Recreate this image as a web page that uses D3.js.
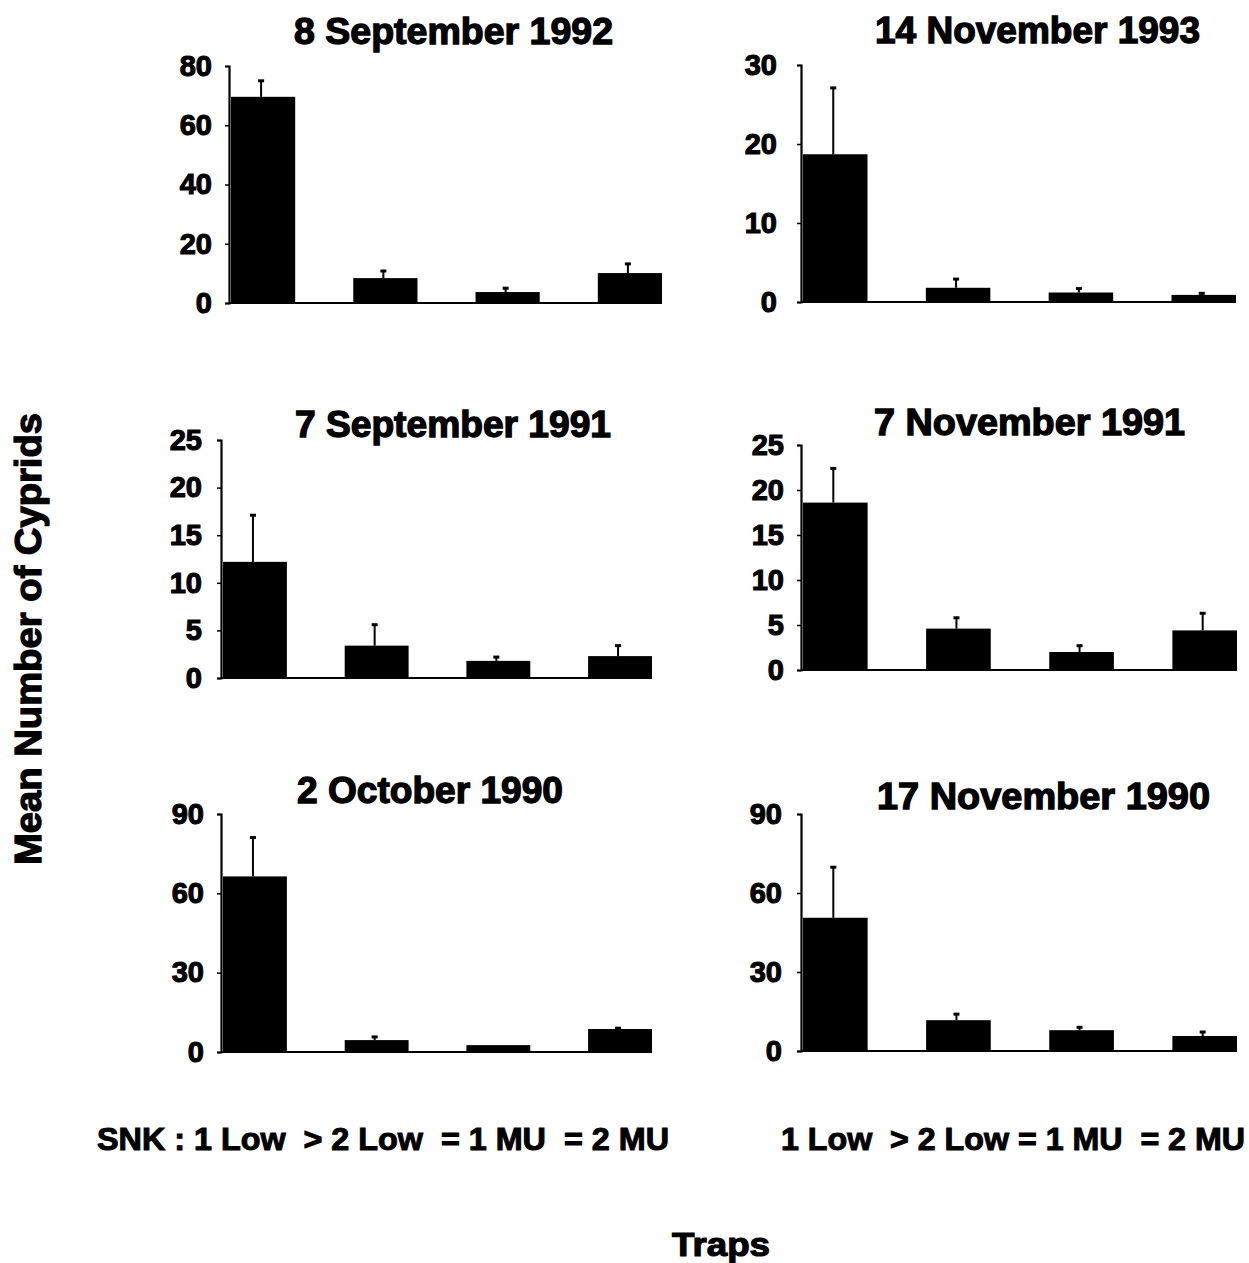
<!DOCTYPE html>
<html>
<head>
<meta charset="utf-8">
<script src="https://cdn.jsdelivr.net/npm/d3@7"></script>
<style>
  html, body { margin: 0; padding: 0; background: #fff; }
  svg { display: block; }
  text { font-family: "Liberation Sans", Arial, Helvetica, sans-serif; font-weight: bold; fill: #000; }
</style>
</head>
<body>
<svg id="chart" width="1249" height="1263"></svg>
<script>
// Trap types along the x axis of every panel
const traps = ["1 Low", "2 Low", "1 MU", "2 MU"];

// Sampling dates (panel titles)
const titles = [
  "8 September 1992", "14 November 1993",
  "7 September 1991", "7 November 1991",
  "2 October 1990", "17 November 1990"
];

// Mean number of cyprids per trap, and standard errors
const meanSep1992 = [69.6, 8.4, 3.7, 10.1];
const seSep1992   = [5.4, 2.4, 1.3, 3.1];
const meanNov1993 = [18.7, 1.8, 1.2, 0.9];
const seNov1993   = [8.4, 1.1, 0.5, 0.2];
const meanSep1991 = [12.2, 3.4, 1.8, 2.3];
const seSep1991   = [4.9, 2.2, 0.4, 1.1];
const meanNov1991 = [18.6, 4.6, 2.0, 4.4];
const seNov1991   = [3.8, 1.2, 0.7, 1.9];
const meanOct1990 = [66.4, 4.5, 2.6, 8.7];
const seOct1990   = [14.7, 1.2, 0.0, 0.3];
const meanNov1990 = [50.6, 11.7, 7.9, 5.7];
const seNov1990   = [19.2, 2.3, 1.1, 1.5];

// Y tick values per panel
const ticksSep1992 = [0, 20, 40, 60, 80];
const ticksNov1993 = [0, 10, 20, 30];
const ticksSep1991 = [0, 5, 10, 15, 20, 25];
const ticksNov1991 = [0, 5, 10, 15, 20, 25];
const ticksOct1990 = [0, 30, 60, 90];
const ticksNov1990 = [0, 30, 60, 90];

// SNK test results below each column of panels
const snkLeft  = "SNK : 1 Low  > 2 Low  = 1 MU  = 2 MU";
const snkRight = "1 Low  > 2 Low = 1 MU  = 2 MU";

const svg = d3.select("#chart");

// Frame of each panel: axis x, baseline y, top y, right end of bars,
// tick label padding, title baseline and horizontal extent
const panels = [
  { title: titles[0], mean: meanSep1992, se: seSep1992, ticks: ticksSep1992, ax: 229, y0: 303,  yTop: 66,  right: 662,  pad: 13, ty: 44,  tx0: 294, tx1: 613 },
  { title: titles[1], mean: meanNov1993, se: seNov1993, ticks: ticksNov1993, ax: 801, y0: 302,  yTop: 65,  right: 1236, pad: 20, ty: 43,  tx0: 875, tx1: 1200 },
  { title: titles[2], mean: meanSep1991, se: seSep1991, ticks: ticksSep1991, ax: 221, y0: 678,  yTop: 440, right: 652,  pad: 15, ty: 437, tx0: 295, tx1: 611 },
  { title: titles[3], mean: meanNov1991, se: seNov1991, ticks: ticksNov1991, ax: 801, y0: 670,  yTop: 445, right: 1237, pad: 13, ty: 435, tx0: 874, tx1: 1185 },
  { title: titles[4], mean: meanOct1990, se: seOct1990, ticks: ticksOct1990, ax: 221, y0: 1052, yTop: 814, right: 652,  pad: 13, ty: 803, tx0: 297, tx1: 563 },
  { title: titles[5], mean: meanNov1990, se: seNov1990, ticks: ticksNov1990, ax: 801, y0: 1051, yTop: 814, right: 1237, pad: 15, ty: 809, tx0: 877, tx1: 1210 }
];

panels.forEach(p => {
  const g = svg.append("g");
  const maxTick = p.ticks[p.ticks.length - 1];

  const y = d3.scaleLinear().domain([0, maxTick]).range([p.y0, p.yTop]);
  const x = d3.scaleBand().domain(traps)
    .range([p.ax + 2, p.right])
    .paddingInner(0.475)
    .paddingOuter(0);

  // Y axis
  const yAxis = d3.axisLeft(y)
    .tickValues(p.ticks)
    .tickSize(4)
    .tickPadding(p.pad)
    .tickFormat(d3.format("d"));
  const ag = g.append("g")
    .attr("transform", `translate(${p.ax},0)`)
    .call(yAxis);
  ag.select(".domain").attr("stroke", "#000").attr("stroke-width", 2.2);
  ag.selectAll(".tick line").attr("stroke", "#000").attr("stroke-width", 1.5);
  ag.selectAll(".tick text")
    .attr("font-size", 29)
    .attr("font-family", "'Liberation Sans', Arial, sans-serif")
    .attr("font-weight", "bold")
    .attr("fill", "#000")
    .attr("stroke", "#000")
    .attr("stroke-width", 1.1);

  // Baseline
  g.append("line")
    .attr("x1", p.ax).attr("x2", p.right)
    .attr("y1", y(0)).attr("y2", y(0))
    .attr("stroke", "#000").attr("stroke-width", 2.2);

  // Bars
  g.selectAll("rect.bar")
    .data(p.mean)
    .join("rect")
    .attr("class", "bar")
    .attr("x", (d, i) => x(traps[i]))
    .attr("width", x.bandwidth())
    .attr("y", d => y(d))
    .attr("height", d => y(0) - y(d))
    .attr("fill", "#000");

  // Error bars (upper half only)
  const eb = g.selectAll("g.err")
    .data(p.mean.map((m, i) => ({ m, se: p.se[i], t: traps[i] })).filter(d => d.se > 0))
    .join("g").attr("class", "err");
  eb.append("line")
    .attr("x1", d => x(d.t) + x.bandwidth() / 2 - 2)
    .attr("x2", d => x(d.t) + x.bandwidth() / 2 - 2)
    .attr("y1", d => y(d.m))
    .attr("y2", d => y(d.m + d.se))
    .attr("stroke", "#000").attr("stroke-width", 2);
  eb.append("line")
    .attr("x1", d => x(d.t) + x.bandwidth() / 2 - 5)
    .attr("x2", d => x(d.t) + x.bandwidth() / 2 + 1)
    .attr("y1", d => y(d.m + d.se))
    .attr("y2", d => y(d.m + d.se))
    .attr("stroke", "#000").attr("stroke-width", 3);

  // Panel title
  g.append("text")
    .attr("x", p.tx0)
    .attr("y", p.ty)
    .attr("font-size", 36)
    .attr("textLength", p.tx1 - p.tx0)
    .attr("lengthAdjust", "spacingAndGlyphs")
    .attr("stroke", "#000").attr("stroke-width", 1.3)
    .text(p.title);
});

// Shared y-axis title
svg.append("text")
  .attr("transform", "translate(41,639) rotate(-90)")
  .attr("text-anchor", "middle")
  .attr("font-size", 37)
  .attr("textLength", 452)
  .attr("lengthAdjust", "spacingAndGlyphs")
  .attr("stroke", "#000").attr("stroke-width", 1.3)
  .text("Mean Number of Cyprids");

// SNK results
svg.append("text")
  .attr("x", 97).attr("y", 1150)
  .attr("font-size", 31)
  .attr("textLength", 572)
  .attr("lengthAdjust", "spacingAndGlyphs")
  .attr("stroke", "#000").attr("stroke-width", 1.0)
  .style("white-space", "pre")
  .text(snkLeft);
svg.append("text")
  .attr("x", 781).attr("y", 1150)
  .attr("font-size", 31)
  .attr("textLength", 464)
  .attr("lengthAdjust", "spacingAndGlyphs")
  .attr("stroke", "#000").attr("stroke-width", 1.0)
  .style("white-space", "pre")
  .text(snkRight);

// Shared x-axis title
svg.append("text")
  .attr("x", 672).attr("y", 1256)
  .attr("font-size", 34)
  .attr("textLength", 98)
  .attr("lengthAdjust", "spacingAndGlyphs")
  .attr("stroke", "#000").attr("stroke-width", 1.2)
  .text("Traps");
</script>
</body>
</html>
